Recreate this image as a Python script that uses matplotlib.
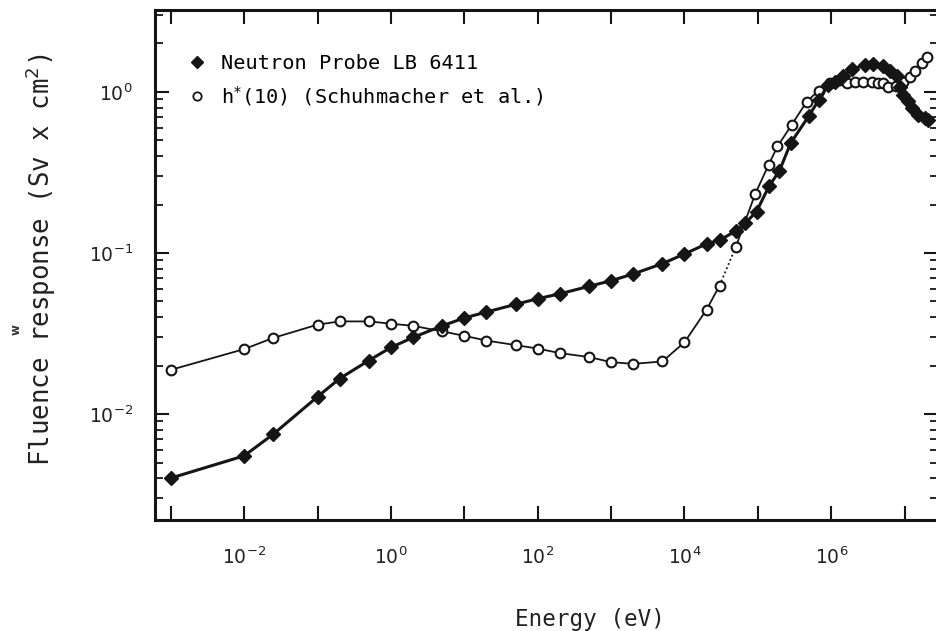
import numpy as np
import matplotlib
matplotlib.use("Agg")
import matplotlib.pyplot as plt
from matplotlib.ticker import LogLocator, FuncFormatter, NullFormatter

# Neutron probe LB 6411 (filled diamonds)
energy_probe = [1e-3, 1e-2, 2.5e-2, 0.1, 0.2, 0.5, 1, 2, 5, 10, 20, 50, 100, 200, 500,
                1e3, 2e3, 5e3, 1e4, 2e4, 3e4, 5e4, 6.7e4, 9.6e4, 1.43e5, 1.95e5, 2.8e5,
                4.9e5, 6.8e5, 9.1e5, 1.12e6, 1.45e6, 1.9e6, 2.88e6, 3.73e6, 5.1e6, 6.3e6,
                7.8e6, 8.6e6, 9.6e6, 1.12e7, 1.25e7, 1.53e7, 1.89e7, 2.09e7]
resp_probe = [0.0040, 0.0055, 0.0075, 0.0128, 0.0166, 0.0215, 0.0259, 0.0299, 0.0353,
              0.0395, 0.043, 0.048, 0.052, 0.0558, 0.0621, 0.0673, 0.0741, 0.0859,
              0.0986, 0.114, 0.120, 0.137, 0.153, 0.181, 0.262, 0.321, 0.482, 0.705,
              0.896, 1.11, 1.16, 1.26, 1.38, 1.48, 1.50, 1.46, 1.34, 1.25, 1.08, 0.96,
              0.875, 0.80, 0.72, 0.69, 0.67]

# h*(10) Schuhmacher et al. (open circles)
energy_h10 = [1e-3, 1e-2, 2.5e-2, 0.1, 0.2, 0.5, 1, 2, 5, 10, 20, 50, 100, 200, 500,
              1e3, 2e3, 5e3, 1e4, 2e4, 3e4, 5e4, 9.2e4, 1.4e5, 1.85e5, 2.9e5, 4.6e5,
              6.7e5, 9.5e5, 1.3e6, 1.62e6, 2.1e6, 2.73e6, 3.55e6, 4.36e6, 5.1e6, 6e6,
              7.6e6, 9.6e6, 1.18e7, 1.38e7, 1.7e7, 2e7]
resp_h10 = [0.0188, 0.0253, 0.0297, 0.0359, 0.0376, 0.0376, 0.0364, 0.0353, 0.0326,
            0.0306, 0.0286, 0.0268, 0.0255, 0.0239, 0.0226, 0.0210, 0.0205, 0.0212,
            0.0279, 0.0445, 0.0627, 0.109, 0.233, 0.353, 0.459, 0.627, 0.867, 1.02,
            1.13, 1.18, 1.14, 1.16, 1.16, 1.15, 1.14, 1.13, 1.08, 1.09, 1.16, 1.24,
            1.34, 1.51, 1.66]

label_probe = "Neutron Probe LB 6411"
label_h10 = "h$^{*}$(10) (Schuhmacher et al.)"

ink = "#151515"
txt = "#222222"

fig = plt.figure(figsize=(9.36, 6.31), dpi=100)
ax = fig.add_axes([155/936, 111/631, 783/936, 510/631])

# open circles, thin line; the 3e4 -> 5e4 step is dotted in the original
i = energy_h10.index(3e4)
ax.plot(energy_h10[:i+1], resp_h10[:i+1], color=ink, lw=1.3, zorder=2)
ax.plot(energy_h10[i:i+2], resp_h10[i:i+2], color=ink, lw=1.3, ls=(0, (1, 1.5)), zorder=2)
ax.plot(energy_h10[i+1:], resp_h10[i+1:], color=ink, lw=1.3, zorder=2)
ax.plot(energy_h10, resp_h10, ls="none", marker="o", ms=7, mfc="white",
        mec=ink, mew=1.5, zorder=3)
h2, = ax.plot([], [], ls="none", marker="o", ms=6, mfc="white", mec=ink, mew=1.3)

ax.plot(energy_probe, resp_probe, color=ink, lw=2.2, marker="D", ms=7,
        mfc=ink, mec=ink, zorder=4)
h1, = ax.plot([], [], ls="none", marker="D", ms=6, mfc=ink, mec=ink)

ax.set_xscale("log")
ax.set_yscale("log")
ax.set_xlim(10**-3.214, 10**7.454)
ax.set_ylim(10**-2.658, 10**0.509)

ax.xaxis.set_major_locator(LogLocator(base=10, subs=(1.0,), numticks=20))
ax.xaxis.set_minor_locator(LogLocator(base=10, subs=(), numticks=20))
ax.xaxis.set_major_formatter(FuncFormatter(
    lambda v, p: "$10^{%d}$" % round(np.log10(v)) if round(np.log10(v)) % 2 == 0 else ""))
ax.yaxis.set_major_locator(LogLocator(base=10, subs=(1.0,), numticks=10))
ax.yaxis.set_minor_locator(LogLocator(base=10, subs=np.arange(2, 10), numticks=10))
ax.yaxis.set_major_formatter(FuncFormatter(lambda v, p: "$10^{%d}$" % round(np.log10(v))))
ax.yaxis.set_minor_formatter(NullFormatter())

ax.tick_params(which="both", direction="in", top=True, right=True, color=ink,
               labelsize=13.5, labelcolor=txt)
ax.tick_params(which="major", length=10, width=1.5)
ax.tick_params(which="minor", length=6, width=1.3)
ax.tick_params(axis="x", pad=19)
ax.tick_params(axis="y", pad=16)

for s in ax.spines.values():
    s.set_linewidth(2.2)
    s.set_color(ink)

ax.set_xlabel("Energy (eV)", fontsize=16.3, family="DejaVu Sans Mono", color=txt)
ax.xaxis.set_label_coords(0.556, -0.172)
ax.set_ylabel("Fluence response (Sv x cm$^2$)", fontsize=18.5,
              family="DejaVu Sans Mono", color=txt)
ax.yaxis.set_label_coords(-0.124, 0.51)

ax.legend([h1, h2], [label_probe, label_h10], loc="upper left",
          bbox_to_anchor=(0.02, 0.95), frameon=False, handlelength=0.8,
          handletextpad=0.8, labelspacing=0.55,
          prop={"family": "DejaVu Sans Mono", "size": 14.6})

# stray mark next to the y label in the scan
fig.text(16/936, 1 - 330/631, "w", rotation=90, fontsize=8.5, fontweight="bold",
         color="#333333", ha="center", va="center")

fig.savefig("out.png", dpi=100)
